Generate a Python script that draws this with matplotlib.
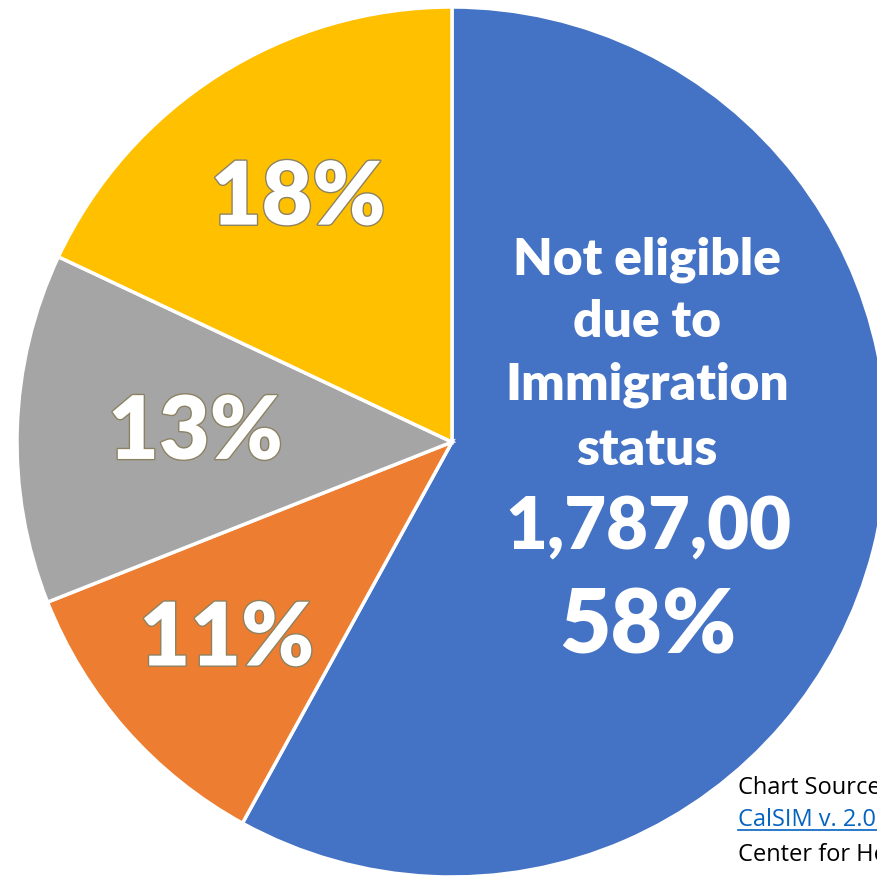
import numpy as np
import matplotlib
matplotlib.use("Agg")
import matplotlib.pyplot as plt
import matplotlib.patheffects as pe

# slices clockwise from 12 o'clock
labels = ["Not eligible due to Immigration status", "Other A", "Other B", "Other C"]
shares = [58, 11, 13, 18]
pct_text = ["58%", "11%", "13%", "18%"]
colors = ["#4472C4", "#ED7D31", "#A5A5A5", "#FFC000"]
label_r = [0.0, 0.69, 0.59, 0.66]  # how far out the small % labels sit

main_lines = ["Not eligible", "due to", "Immigration", "status"]
main_count = "1,787,00"
main_pct = "58%"
source_lines = ["Chart Source:", "CalSIM v. 2.0", "Center for Health Policy Research"]

W = 878
fig = plt.figure(figsize=(8.78, 8.78), dpi=100)
ax = fig.add_axes([0, 0, 1, 1])
ax.axis("off")

cx, cy, R = 452, W - 443, 435
wedges, _ = ax.pie(shares, colors=colors, startangle=90, counterclock=False,
                   center=(cx, cy), radius=R,
                   wedgeprops=dict(edgecolor="white", linewidth=2.5))
ax.set_xlim(0, W)
ax.set_ylim(0, W)
ax.set_aspect("equal")

font = "Lato"
outline = [pe.Stroke(linewidth=2, foreground="#8c8262"), pe.Normal()]

# small percent labels placed along each wedge's middle angle
for w, t, r in zip(wedges[1:], pct_text[1:], label_r[1:]):
    ang = np.deg2rad((w.theta1 + w.theta2) / 2)
    x = cx + r * R * np.cos(ang)
    y = cy + r * R * np.sin(ang)
    ax.text(x, y, t, color="white", fontsize=63, fontweight="heavy", family=font,
            ha="center", va="center", path_effects=outline)

# big label inside the blue slice
ys = [W - 260, W - 322, W - 385, W - 450]
for s, y in zip(main_lines, ys):
    ax.text(647, y, s, color="white", fontsize=37, fontweight="heavy", family=font,
            ha="center", va="center")
ax.text(648, W - 528, main_count, color="white", fontsize=52, fontweight="heavy",
        family=font, ha="center", va="center")
ax.text(648, W - 628, main_pct, color="white", fontsize=64, fontweight="heavy",
        family=font, ha="center", va="center")

# source note, runs off the right edge as in the original
src_y = [W - 788, W - 820, W - 855]
src_c = ["black", "#0563C1", "black"]
for s, y, c in zip(source_lines, src_y, src_c):
    ax.text(738, y, s, color=c, fontsize=17, family="Open Sans",
            ha="left", va="center")
ax.plot([738, 900], [W - 831, W - 831], color="#0563C1", lw=1.2, clip_on=False)

fig.savefig("out.png", dpi=100, facecolor="white")
